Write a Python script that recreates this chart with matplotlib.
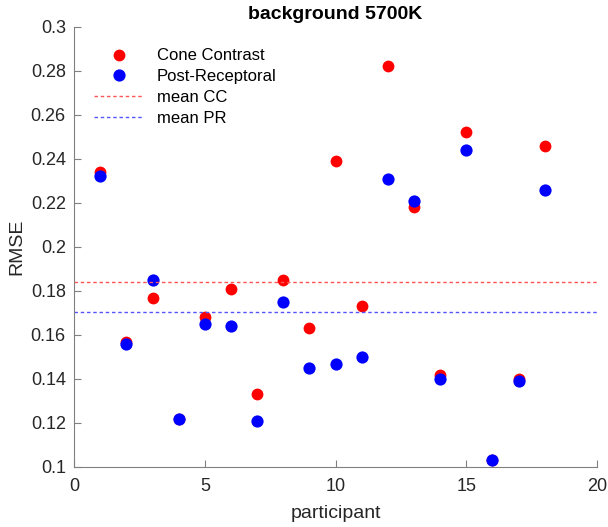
import matplotlib
matplotlib.use("Agg")
import matplotlib.pyplot as plt
import numpy as np

plt.rcParams['font.family'] = ['Liberation Sans', 'DejaVu Sans']

participants = np.arange(1, 19)
cone_contrast = [0.234, 0.157, 0.177, 0.122, 0.168, 0.181, 0.133, 0.185, 0.163,
                 0.239, 0.173, 0.282, 0.218, 0.142, 0.252, 0.103, 0.140, 0.246]
post_receptoral = [0.232, 0.156, 0.185, 0.122, 0.165, 0.164, 0.121, 0.175, 0.145,
                   0.147, 0.150, 0.231, 0.221, 0.140, 0.244, 0.103, 0.139, 0.226]

mean_cc = np.mean(cone_contrast)
mean_pr = np.mean(post_receptoral)

fig = plt.figure(figsize=(6.08, 5.27), dpi=100)
ax = fig.add_axes([0.122, 0.114, 0.860, 0.835])

ax.plot(participants, cone_contrast, 'o', color='red', ms=8.5, mec='none', label='Cone Contrast')
ax.plot(participants, post_receptoral, 'o', color='blue', ms=8.8, mec='none', label='Post-Receptoral')
ax.axhline(mean_cc, color='#ff5555', ls=(0, (2.5, 2)), lw=1, label='mean CC')
ax.axhline(mean_pr, color='#5555ff', ls=(0, (2.5, 2)), lw=1, label='mean PR')

ax.set_xlim(0, 20)
ax.set_ylim(0.1, 0.3)
ax.set_xticks([0, 5, 10, 15, 20])
ax.set_yticks(np.arange(0.1, 0.301, 0.02))
ax.set_yticklabels(['0.1', '0.12', '0.14', '0.16', '0.18', '0.2', '0.22', '0.24', '0.26', '0.28', '0.3'])

for s in ['top', 'right']:
    ax.spines[s].set_visible(False)
for s in ['left', 'bottom']:
    ax.spines[s].set_color('#808080')
ax.tick_params(direction='in', length=5, color='#808080', labelcolor='#262626', labelsize=13)
ax.tick_params(axis='x', pad=8)
ax.tick_params(axis='y', pad=6)

ax.set_xlabel('participant', fontsize=14, color='#262626', labelpad=7)
ax.set_ylabel('RMSE', fontsize=14, color='#262626')
ax.set_title('background 5700K', fontsize=14, fontweight='bold', pad=6)

ax.legend(loc='upper left', frameon=False, fontsize=12, handlelength=3.0, handletextpad=0.75,
          bbox_to_anchor=(0.01, 0.985), labelspacing=0.35)

fig.savefig('out.png', dpi=100)
